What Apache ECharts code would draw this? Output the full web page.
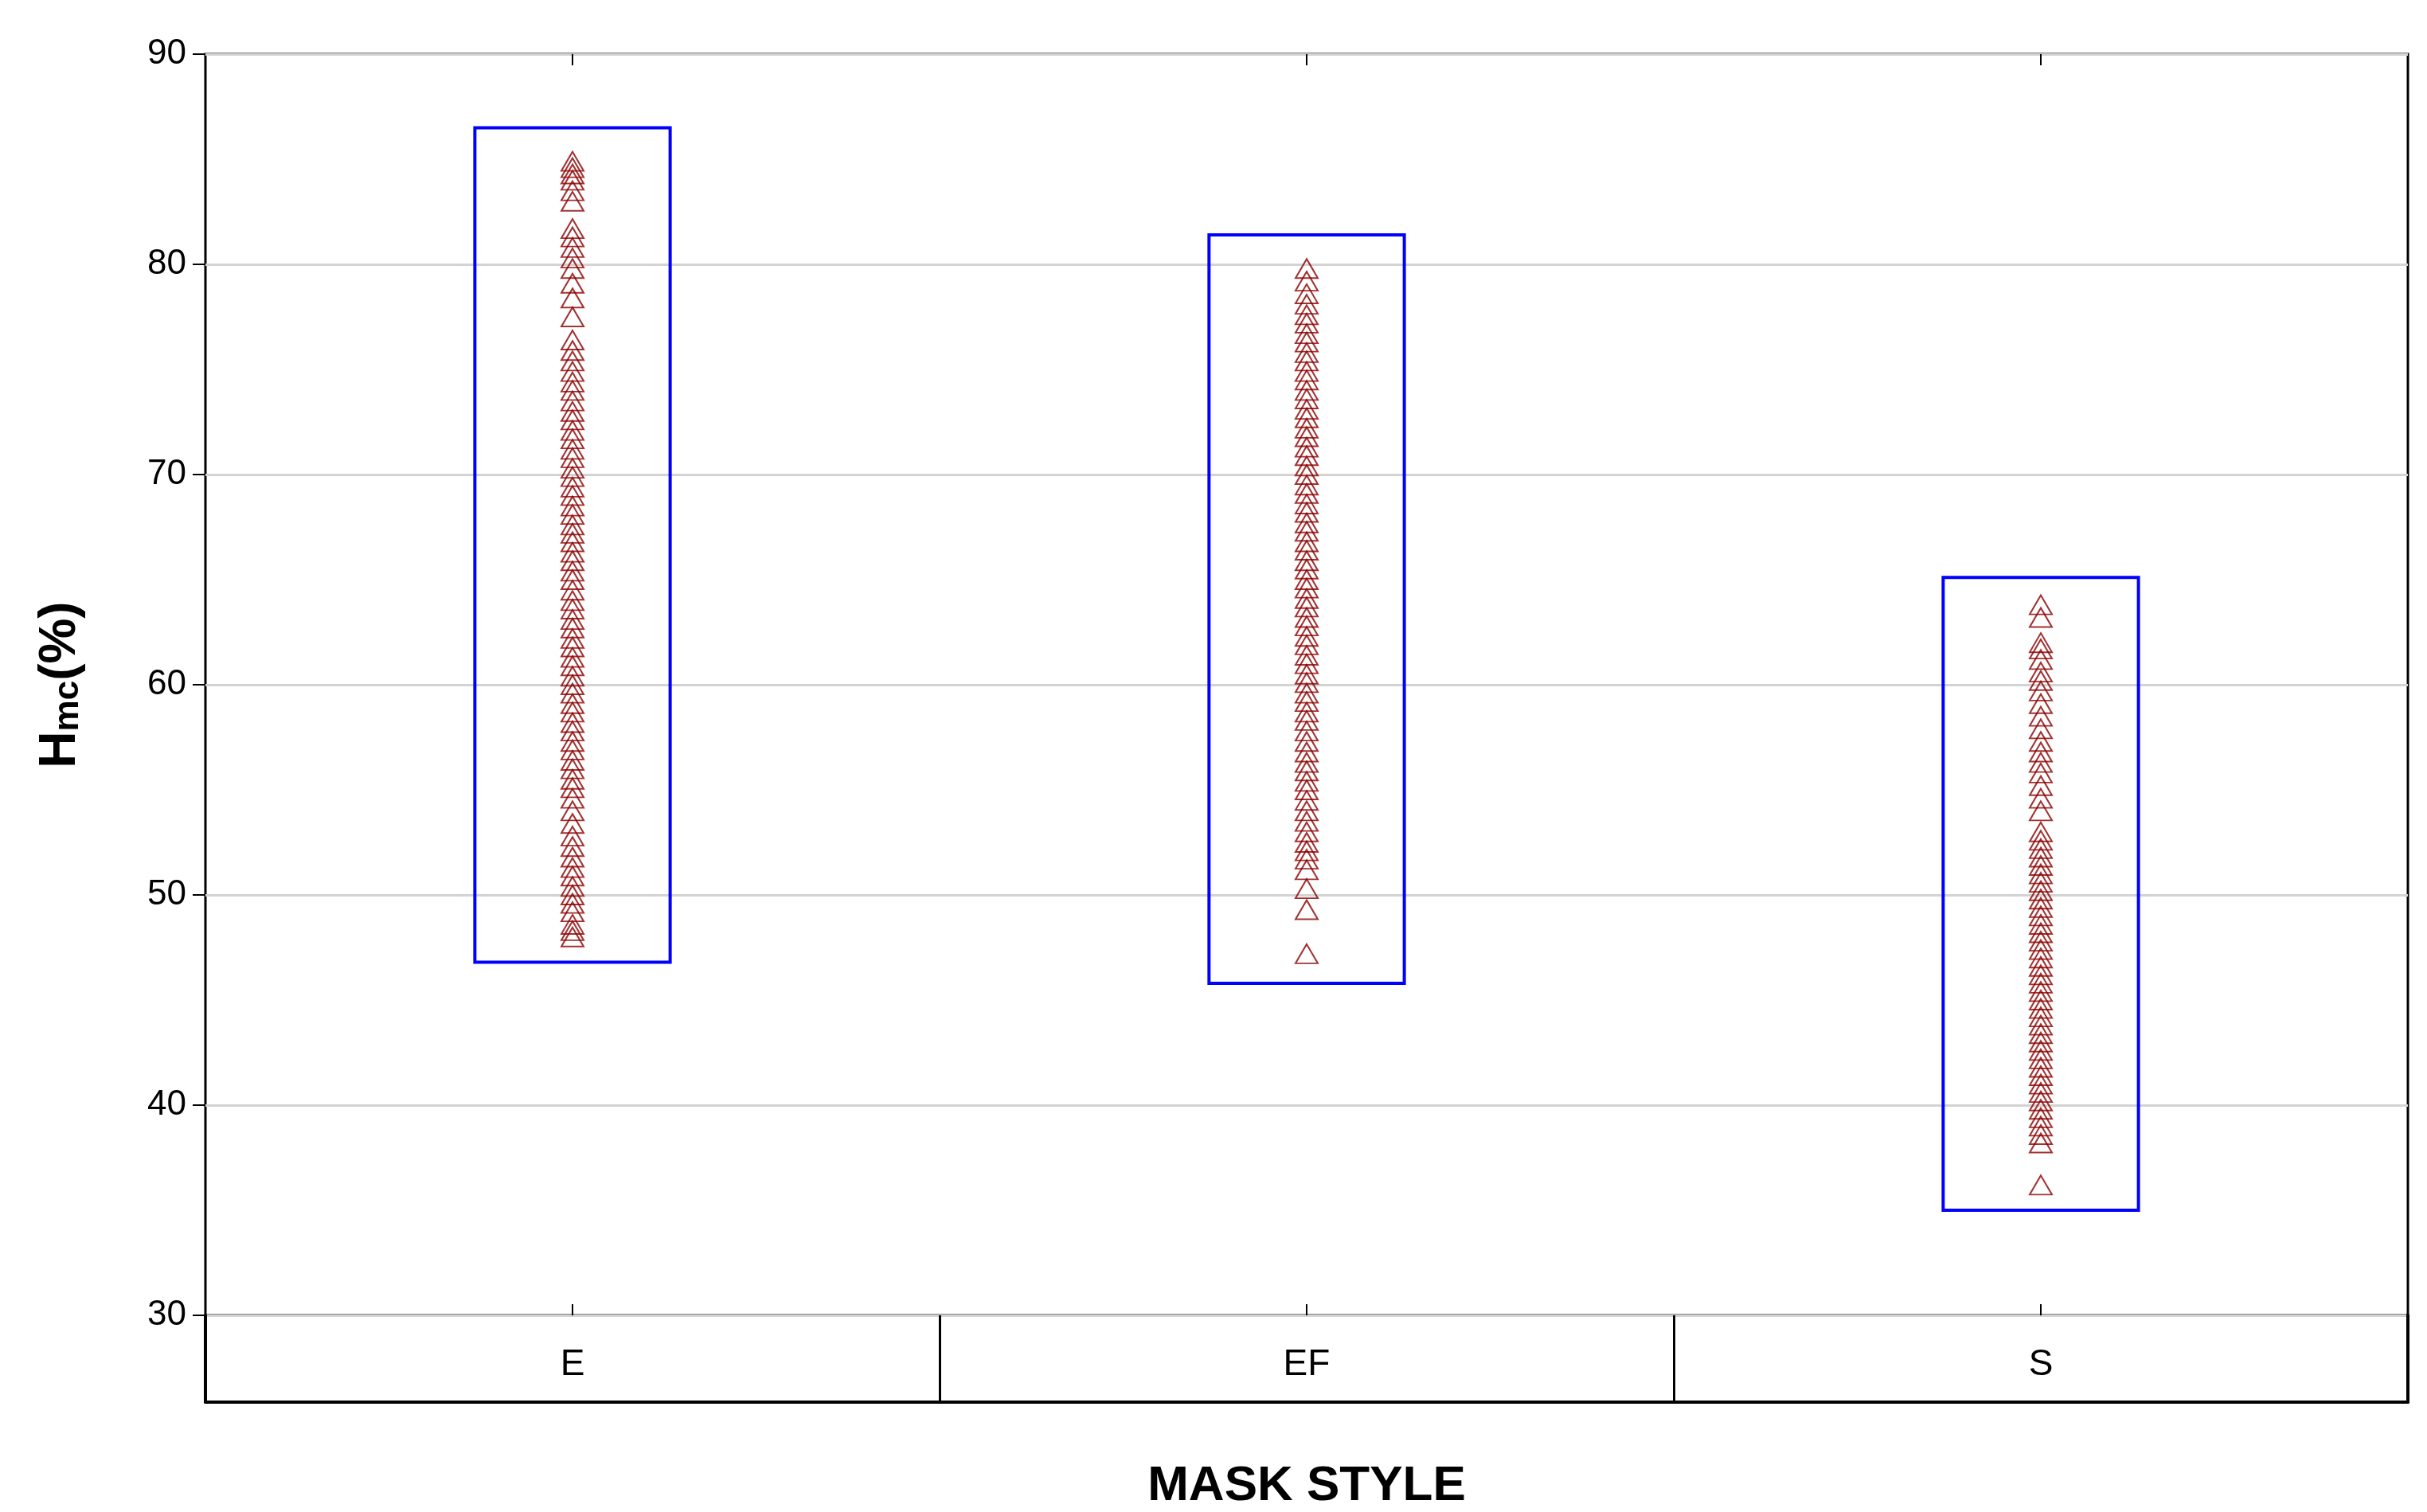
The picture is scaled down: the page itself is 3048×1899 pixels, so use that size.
<!DOCTYPE html>
<html><head><meta charset="utf-8">
<script src="https://cdn.jsdelivr.net/npm/echarts@6/dist/echarts.min.js"></script>
<style>html,body{margin:0;padding:0;background:#fff}#c{width:3048px;height:1899px}</style>
</head><body><div id="c"></div>
<script>
const categories = ['E','EF','S'];
const yTicks = [30,40,50,60,70,80,90];
const valuesE = [48.0,48.3,48.6,49.2,49.6,50.0,50.4,50.9,51.3,51.8,52.3,52.8,53.4,54.0,54.6,55.1,55.5,56.0,56.4,56.9,57.3,57.8,58.2,58.7,59.1,59.6,60.0,60.4,60.9,61.3,61.8,62.2,62.7,63.1,63.6,64.0,64.5,65.0,65.4,65.9,66.3,66.8,67.2,67.6,68.1,68.5,69.0,69.4,69.9,70.3,70.8,71.2,71.7,72.1,72.6,73.0,73.5,74.0,74.4,74.9,75.4,75.9,76.4,77.5,78.4,79.1,79.8,80.3,80.8,81.3,81.7,83.0,83.5,84.0,84.3,84.6,84.9];
const valuesEF = [47.2,49.3,50.3,51.2,51.7,52.1,52.5,53.0,53.5,54.0,54.5,55.0,55.4,55.9,56.3,56.8,57.3,57.8,58.3,58.7,59.2,59.6,60.1,60.5,61.0,61.4,61.9,62.3,62.8,63.2,63.7,64.1,64.6,65.0,65.5,65.9,66.4,66.8,67.3,67.7,68.2,68.6,69.1,69.5,70.0,70.4,70.9,71.3,71.8,72.2,72.7,73.1,73.6,74.0,74.5,74.9,75.4,75.8,76.3,76.7,77.2,77.6,78.1,78.6,79.2,79.8];
const valuesS = [36.2,38.2,38.6,39.0,39.4,39.8,40.2,40.6,41.0,41.4,41.8,42.2,42.6,43.0,43.4,43.8,44.2,44.6,45.0,45.4,45.8,46.2,46.6,47.0,47.4,47.8,48.2,48.6,49.0,49.4,49.8,50.2,50.6,51.0,51.4,51.8,52.2,52.6,53.0,54.0,54.6,55.2,55.8,56.3,56.8,57.3,57.9,58.5,59.1,59.7,60.2,60.6,61.2,61.7,62.0,63.2,63.8];
const boxLow = [46.8,45.8,35.0];
const boxHigh = [86.5,81.4,65.1];

const seriesVals = [valuesE, valuesEF, valuesS];
const scatterData = [];
seriesVals.forEach((arr,i)=>arr.forEach(v=>scatterData.push([categories[i], v])));
const boxData = categories.map((c,i)=>[c, boxLow[i], boxHigh[i]]);

const chart = echarts.init(document.getElementById('c'));
chart.setOption({
  animation:false,
  backgroundColor:'#fff',
  grid:[
    {left:258, right:24, top:68, height:1584, show:true, borderColor:'#000', borderWidth:3},
    {left:258, right:24, top:1652, height:125, show:false}
  ],
  xAxis:[
    {type:'category', gridIndex:0, data:categories, boundaryGap:true,
     axisLine:{show:false}, axisLabel:{show:false},
     axisTick:{show:true, alignWithLabel:true, inside:true, length:14, lineStyle:{color:'#000',width:2}},
     splitLine:{show:false}},
    {type:'category', gridIndex:0, data:categories, position:'top', boundaryGap:true,
     axisLine:{show:false}, axisLabel:{show:false},
     axisTick:{show:true, alignWithLabel:true, inside:true, length:14, lineStyle:{color:'#000',width:2}}},
    {type:'category', gridIndex:1, data:categories, boundaryGap:true, position:'bottom',
     axisLine:{show:true, lineStyle:{color:'#000', width:4}}, axisTick:{show:false}, axisLabel:{show:false},
     splitLine:{show:true, interval:0, lineStyle:{color:'#000', width:3}},
     name:'MASK STYLE', nameLocation:'middle', nameGap:75,
     nameTextStyle:{fontSize:62, fontWeight:'bold', color:'#000', fontFamily:'Liberation Sans'}},
    {type:'category', gridIndex:1, data:categories, boundaryGap:true, position:'top',
     axisLine:{show:false}, axisTick:{show:false},
     axisLabel:{margin:-62, verticalAlign:'middle', fontSize:46, color:'#000', fontFamily:'Liberation Sans'}}
  ],
  yAxis:[
    {type:'value', gridIndex:0, min:30, max:90, interval:10,
     axisLine:{show:false},
     axisTick:{show:true, length:16, lineStyle:{color:'#000',width:2}},
     axisLabel:{fontSize:44, color:'#000', margin:24, fontFamily:'Liberation Sans'},
     splitLine:{show:true, lineStyle:{color:'#d3d3d3', width:3}},
     name:'{b|H}{s|mc}{b|(%)}', nameLocation:'middle', nameGap:150, nameRotate:90,
     nameTextStyle:{rich:{b:{fontSize:64,fontWeight:'bold',color:'#000',fontFamily:'Liberation Sans'},
                         s:{fontSize:44,fontWeight:'bold',color:'#000',fontFamily:'Liberation Sans',verticalAlign:'bottom',padding:[20,0,0,0]}}}},
    {type:'value', gridIndex:1, min:0, max:1, show:true,
     axisLine:{show:true, lineStyle:{color:'#000', width:4}}, axisTick:{show:false}, axisLabel:{show:false}, splitLine:{show:false}},
    {type:'value', gridIndex:1, min:0, max:1, show:true, position:'right',
     axisLine:{show:true, lineStyle:{color:'#000', width:4}}, axisTick:{show:false}, axisLabel:{show:false}, splitLine:{show:false}}
  ],
  series:[
    {type:'custom', xAxisIndex:0, yAxisIndex:0, data:boxData, z:1,
     renderItem:function(params, api){
       const x = api.coord([api.value(0), api.value(2)]);
       const lo = api.coord([api.value(0), api.value(1)]);
       const w = api.size([1,0])[0]*0.266;
       return {type:'rect', shape:{x:x[0]-w/2, y:x[1], width:w, height:lo[1]-x[1]},
               style:{fill:'none', stroke:'#0000ff', lineWidth:4}};
     }},
    {type:'scatter', xAxisIndex:0, yAxisIndex:0, data:scatterData, symbol:'triangle', symbolSize:[28,24], z:2,
     itemStyle:{color:'rgba(0,0,0,0)', borderColor:'#8b0000', borderWidth:2}}
  ]
});
</script></body></html>
